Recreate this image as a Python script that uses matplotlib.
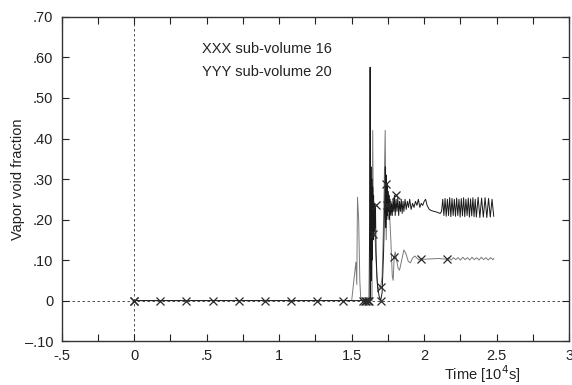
import numpy as np
import matplotlib
matplotlib.use('Agg')
import matplotlib.pyplot as plt

plt.rcParams['font.family'] = ['Liberation Sans', 'DejaVu Sans']

# sub-volume 16 (upper curve)
t16 = [0.0, 1.50, 1.60, 1.620, 1.624, 1.627, 1.630, 1.633, 1.636, 1.639, 1.642, 1.645,
       1.648, 1.651, 1.654, 1.657, 1.660, 1.664, 1.668, 1.674, 1.680, 1.690, 1.700,
       1.710, 1.720, 1.728, 1.732, 1.735, 1.738, 1.741, 1.744, 1.747, 1.750, 1.753,
       1.757, 1.761, 1.765, 1.770, 1.775, 1.780, 1.785, 1.790, 1.795, 1.800, 1.806,
       1.812, 1.818, 1.824, 1.830, 1.836, 1.842, 1.848, 1.854, 1.860, 1.868, 1.876,
       1.884, 1.892, 1.900, 1.910, 1.920, 1.930, 1.940, 1.950, 1.960, 1.970, 1.980,
       1.990, 2.000, 2.010, 2.020, 2.035, 2.050, 2.070, 2.090, 2.110, 2.120,
       2.128, 2.136, 2.144, 2.152, 2.160, 2.168, 2.176, 2.184, 2.192, 2.200, 2.208,
       2.216, 2.224, 2.232, 2.240, 2.248, 2.256, 2.264, 2.272, 2.280, 2.288, 2.296,
       2.304, 2.312, 2.320, 2.328, 2.336, 2.344, 2.352, 2.360,
       2.372, 2.384, 2.396, 2.408, 2.420, 2.432, 2.444, 2.456, 2.468, 2.480]
v16 = [0.0, 0.0, 0.0, 0.0, 0.20, 0.576, 0.0, 0.33, 0.05, 0.30, 0.10, 0.28,
       0.15, 0.26, 0.17, 0.24, 0.18, 0.23, 0.12, 0.06, 0.03, 0.01, 0.0,
       0.02, 0.12, 0.25, 0.33, 0.18, 0.31, 0.20, 0.29, 0.21, 0.27, 0.22,
       0.26, 0.20, 0.25, 0.21, 0.24, 0.21, 0.25, 0.22, 0.26, 0.21, 0.25,
       0.22, 0.255, 0.21, 0.245, 0.22, 0.25, 0.215, 0.245, 0.22, 0.25, 0.225,
       0.245, 0.23, 0.25, 0.225, 0.24, 0.23, 0.245, 0.235, 0.25, 0.23, 0.24,
       0.235, 0.245, 0.25, 0.235, 0.225, 0.222, 0.220, 0.218, 0.215, 0.22,
       0.25, 0.21, 0.252, 0.208, 0.25, 0.21, 0.254, 0.207, 0.252, 0.21, 0.25,
       0.208, 0.253, 0.21, 0.25, 0.206, 0.252, 0.209, 0.254, 0.207, 0.25, 0.21,
       0.253, 0.206, 0.251, 0.209, 0.254, 0.207, 0.25, 0.206,
       0.255, 0.205, 0.253, 0.206, 0.254, 0.205, 0.252, 0.206, 0.25, 0.208]

# sub-volume 20 (lower curve)
t20 = [0.0, 1.50, 1.515, 1.529, 1.535, 1.540, 1.548, 1.556, 1.563, 1.600, 1.640,
       1.645, 1.650, 1.656, 1.662, 1.668, 1.675, 1.682, 1.690, 1.700, 1.710, 1.720,
       1.731, 1.738, 1.745, 1.752, 1.760, 1.770, 1.780, 1.786, 1.793, 1.800, 1.810,
       1.820, 1.830, 1.845, 1.860, 1.875, 1.890, 1.905, 1.920, 1.935, 1.950, 1.965,
       1.977, 2.000, 2.050, 2.100, 2.155,
       2.170, 2.186, 2.202, 2.218, 2.234, 2.250, 2.266, 2.282, 2.298, 2.314, 2.330,
       2.346, 2.362, 2.378, 2.394, 2.410, 2.426, 2.442, 2.458, 2.474, 2.480]
v20 = [0.0, 0.0, 0.05, 0.095, 0.04, 0.255, 0.20, 0.05, 0.0, 0.0, 0.0,
       0.42, 0.165, 0.23, 0.15, 0.10, 0.05, 0.02, 0.035, 0.033, 0.06, 0.20,
       0.42, 0.15, 0.28, 0.20, 0.22, 0.15, 0.06, 0.05, 0.107, 0.12, 0.10,
       0.08, 0.075, 0.10, 0.125, 0.115, 0.097, 0.093, 0.105, 0.11, 0.105, 0.10,
       0.103, 0.102, 0.103, 0.104, 0.102,
       0.106, 0.100, 0.106, 0.101, 0.106, 0.100, 0.107, 0.101, 0.106, 0.100, 0.107,
       0.101, 0.106, 0.100, 0.107, 0.101, 0.106, 0.100, 0.106, 0.101, 0.104]

# marker positions
mk16_t = [0.0, 0.18, 0.36, 0.54, 0.72, 0.90, 1.08, 1.26, 1.44, 1.58, 1.595, 1.61, 1.62,
          1.70, 1.667, 1.74, 1.745, 1.805]
mk16_v = [0, 0, 0, 0, 0, 0, 0, 0, 0, 0, 0, 0, 0,
          0, 0.235, 0.288, 0.235, 0.26]
mk20_t = [0.0, 1.60, 1.65, 1.70, 1.793, 1.977, 2.155]
mk20_v = [0, 0, 0.165, 0.033, 0.107, 0.103, 0.102]

fig = plt.figure(figsize=(5.72, 3.85), dpi=100)
ax = fig.add_axes([0.108, 0.114, 0.887, 0.842])

ax.axhline(0, color='#333333', lw=0.6, ls=(0, (3, 3)), zorder=1)
ax.axvline(0, color='#333333', lw=0.6, ls=(0, (3, 3)), zorder=1)

ax.plot(t20, v20, color='#7a7a7a', lw=0.7, zorder=2)
ax.plot(t16, v16, color='#1a1a1a', lw=0.7, zorder=3)
ax.plot(mk16_t, mk16_v, ls='none', marker='x', ms=6, mew=0.9, color='#2a2a2a', zorder=4)
ax.plot(mk20_t, mk20_v, ls='none', marker='x', ms=6, mew=0.9, color='#2a2a2a', zorder=4)

ax.set_xlim(-0.5, 3.0)
ax.set_ylim(-0.10, 0.70)

xt = [-0.5, 0, 0.5, 1.0, 1.5, 2.0, 2.5, 3.0]
ax.set_xticks(xt)
ax.set_xticklabels(['-.5', '0', '.5', '1', '1.5', '2', '2.5', '3'])
ax.set_xticks(np.arange(-0.25, 3.0, 0.5), minor=True)
yt = [-0.1, 0, 0.1, 0.2, 0.3, 0.4, 0.5, 0.6, 0.7]
ax.set_yticks(yt)
ax.set_yticklabels(['\u2013.10', '0', '.10', '.20', '.30', '.40', '.50', '.60', '.70'])

ax.tick_params(which='both', direction='in', top=True, right=True, length=5,
               width=0.8, labelsize=10.5, colors='#222222', pad=6)
for s in ax.spines.values():
    s.set_linewidth(1.0)
    s.set_color('#333333')

ax.text(0.47, 0.622, 'XXX sub-volume 16', fontsize=10.5, color='#222222', va='center')
ax.text(0.47, 0.563, 'YYY sub-volume 20', fontsize=10.5, color='#222222', va='center')

ax.set_ylabel('Vapor void fraction', fontsize=10.5, color='#222222')
ax.yaxis.set_label_coords(-0.072, 0.5)
fig.text(0.91, 0.012, 'Time [10$^4$s]', fontsize=10.5, color='#222222', ha='right')

fig.savefig('out.png', dpi=100)
